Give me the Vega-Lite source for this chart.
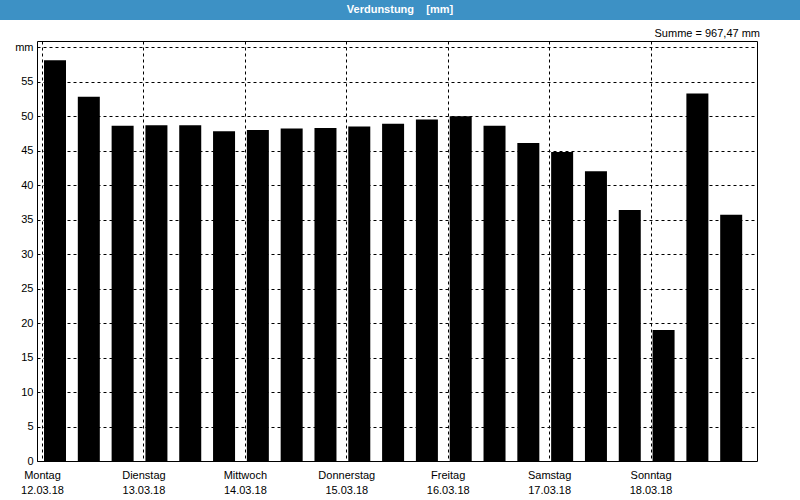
{
  "$schema": "https://vega.github.io/schema/vega-lite/v6.json",
  "padding": 0,
  "background": "white",
  "spacing": 7,
  "config": {
    "font": "Liberation Sans",
    "view": {"stroke": "black", "strokeWidth": 1}
  },
  "vconcat": [
    {
      "width": 800,
      "height": 20,
      "view": {"fill": "#3d91c5", "stroke": null},
      "data": {"values": [{"titel": "Verdunstung\u00a0\u00a0\u00a0\u00a0[mm]"}]},
      "mark": {"type": "text", "color": "white", "fontWeight": "bold", "fontSize": 11, "baseline": "middle", "align": "center"},
      "encoding": {"text": {"field": "titel"}}
    },
    {
      "spacing": 0,
      "hconcat": [
        {
          "width": 1,
          "height": 420,
          "view": {"stroke": null},
          "data": {"values": [{"titel": ""}]},
          "mark": {"type": "text"},
          "encoding": {"text": {"field": "titel"}}
        },
        {
          "width": 720,
          "height": 420,
          "title": {"text": "Summe = 967,47 mm", "anchor": "end", "frame": "group", "fontSize": 11, "fontWeight": "normal", "color": "black", "offset": 2, "dx": 3},
          "data": {
            "values": [
              {"zeit": "2018-03-12T00:00", "verdunstung": 58.1},
              {"zeit": "2018-03-12T08:00", "verdunstung": 52.8},
              {"zeit": "2018-03-12T16:00", "verdunstung": 48.6},
              {"zeit": "2018-03-13T00:00", "verdunstung": 48.7},
              {"zeit": "2018-03-13T08:00", "verdunstung": 48.7},
              {"zeit": "2018-03-13T16:00", "verdunstung": 47.8},
              {"zeit": "2018-03-14T00:00", "verdunstung": 48.0},
              {"zeit": "2018-03-14T08:00", "verdunstung": 48.2},
              {"zeit": "2018-03-14T16:00", "verdunstung": 48.3},
              {"zeit": "2018-03-15T00:00", "verdunstung": 48.5},
              {"zeit": "2018-03-15T08:00", "verdunstung": 48.9},
              {"zeit": "2018-03-15T16:00", "verdunstung": 49.5},
              {"zeit": "2018-03-16T00:00", "verdunstung": 50.0},
              {"zeit": "2018-03-16T08:00", "verdunstung": 48.6},
              {"zeit": "2018-03-16T16:00", "verdunstung": 46.1},
              {"zeit": "2018-03-17T00:00", "verdunstung": 44.8},
              {"zeit": "2018-03-17T08:00", "verdunstung": 42.0},
              {"zeit": "2018-03-17T16:00", "verdunstung": 36.4},
              {"zeit": "2018-03-18T00:00", "verdunstung": 19.0},
              {"zeit": "2018-03-18T08:00", "verdunstung": 53.3},
              {"zeit": "2018-03-18T16:00", "verdunstung": 35.7}
            ]
          },
          "mark": {"type": "bar", "color": "black", "width": 22, "xOffset": 13},
          "encoding": {
            "x": {
              "field": "zeit",
              "type": "temporal",
              "scale": {"domain": [{"year": 2018, "month": 3, "date": 12}, {"year": 2018, "month": 3, "date": 19}], "nice": false},
              "axis": {
                "values": [
                  {"year": 2018, "month": 3, "date": 12},
                  {"year": 2018, "month": 3, "date": 13},
                  {"year": 2018, "month": 3, "date": 14},
                  {"year": 2018, "month": 3, "date": 15},
                  {"year": 2018, "month": 3, "date": 16},
                  {"year": 2018, "month": 3, "date": 17},
                  {"year": 2018, "month": 3, "date": 18}
                ],
                "labelExpr": "[['Sonntag','Montag','Dienstag','Mittwoch','Donnerstag','Freitag','Samstag'][day(datum.value)], timeFormat(datum.value, '%d.%m.%y')]",
                "title": null,
                "ticks": false,
                "tickSize": 0,
                "domain": false,
                "grid": true,
                "gridColor": "black",
                "gridOpacity": 1,
                "gridDash": [3, 3],
                "labelPadding": 8,
                "labelLineHeight": 15,
                "labelFontSize": 11,
                "labelColor": "black",
                "labelFlush": false,
                "labelOverlap": false,
                "labelBound": false
              }
            },
            "y": {
              "field": "verdunstung",
              "type": "quantitative",
              "scale": {"domain": [0, 60.9], "nice": false, "zero": true},
              "axis": {
                "values": [0, 5, 10, 15, 20, 25, 30, 35, 40, 45, 50, 55, 60],
                "labelExpr": "datum.value == 60 ? 'mm' : datum.label",
                "title": null,
                "ticks": false,
                "tickSize": 0,
                "domain": false,
                "grid": true,
                "gridColor": "black",
                "gridOpacity": 1,
                "gridDash": [3, 3],
                "labelPadding": 4,
                "labelFontSize": 11,
                "labelColor": "black",
                "minExtent": 35
              }
            }
          }
        }
      ]
    }
  ]
}
